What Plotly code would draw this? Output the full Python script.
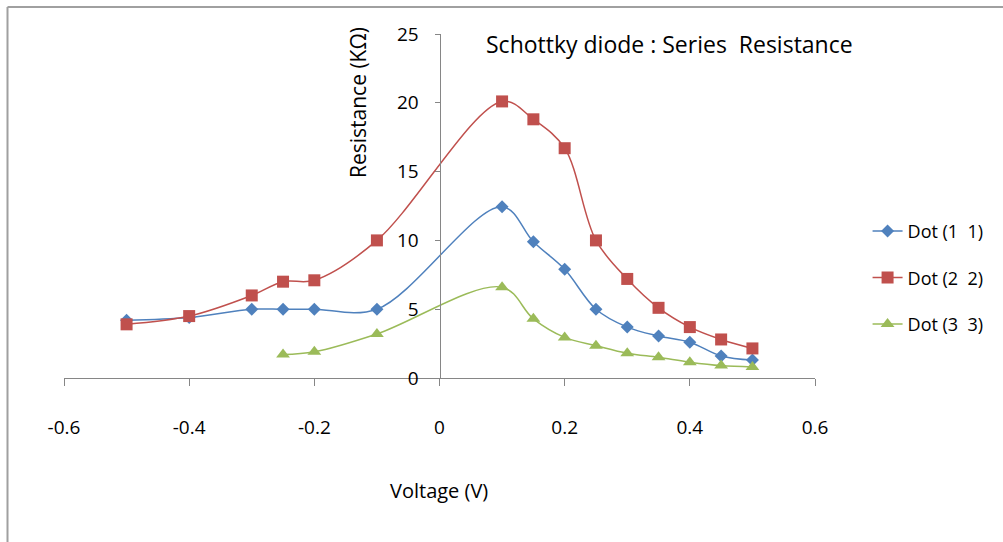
import plotly.graph_objects as go

# ---- data ----
voltage_12 = [-0.5, -0.4, -0.3, -0.25, -0.2, -0.1, 0.1, 0.15, 0.2, 0.25, 0.3, 0.35, 0.4, 0.45, 0.5]
dot11 = [4.2, 4.4, 5.0, 5.0, 5.0, 5.0, 12.45, 9.9, 7.9, 5.0, 3.7, 3.05, 2.6, 1.6, 1.3]
dot22 = [3.9, 4.5, 6.0, 7.0, 7.1, 10.0, 20.1, 18.8, 16.7, 10.0, 7.2, 5.1, 3.7, 2.8, 2.15]
voltage_3 = [-0.25, -0.2, -0.1, 0.1, 0.15, 0.2, 0.25, 0.3, 0.35, 0.4, 0.45, 0.5]
dot33 = [1.7, 1.9, 3.2, 6.6, 4.3, 2.95, 2.35, 1.8, 1.5, 1.15, 0.9, 0.8]

series_names = ["Dot (1  1)", "Dot (2  2)", "Dot (3  3)"]
x_tickvals = [-0.6, -0.4, -0.2, 0, 0.2, 0.4, 0.6]
x_ticktext = ["-0.6", "-0.4", "-0.2", "0", "0.2", "0.4", "0.6"]
y_tickvals = [0, 5, 10, 15, 20, 25]
y_ticktext = ["0", "5", "10", "15", "20", "25"]

FONT = "Open Sans, sans-serif"
AXIS_GRAY = "#868686"

fig = go.Figure()

styles = [
    (voltage_12, dot11, "#4F81BD", "diamond", 10),
    (voltage_12, dot22, "#C0504D", "square", 12),
    (voltage_3, dot33, "#9BBB59", "triangle-up", 12),
]
for i, (xs, ys, col, sym, sz) in enumerate(styles):
    fig.add_trace(go.Scatter(
        x=xs, y=ys, mode="lines+markers", name=series_names[i],
        legendgroup=f"g{i}",
        line=dict(color=col, width=1.5, shape="spline", smoothing=1.0),
        marker=dict(symbol=sym, size=sz, color=col),
    ))

fig.update_layout(
    width=1003, height=542,
    margin=dict(l=64, r=188, t=34, b=164),
    paper_bgcolor="white", plot_bgcolor="white",
    font=dict(family=FONT, size=18, color="#000000"),
    showlegend=True,
    legend=dict(
        x=1.07, xanchor="left", y=0.48, yanchor="top",
        tracegroupgap=20, font=dict(family=FONT, size=18),
        bgcolor="rgba(0,0,0,0)",
    ),
    xaxis=dict(
        range=[-0.6, 0.6], tickvals=x_tickvals, ticktext=x_ticktext,
        showgrid=False, zeroline=False, showline=True, linecolor=AXIS_GRAY, linewidth=1,
        ticks="outside", ticklen=7, tickcolor=AXIS_GRAY,
        ticklabelstandoff=25, tickfont=dict(family=FONT, size=19),
    ),
    yaxis=dict(
        range=[0, 25], tickvals=y_tickvals, ticktext=y_ticktext,
        anchor="free", position=0.5,
        showgrid=False, zeroline=False, showline=True, linecolor=AXIS_GRAY, linewidth=1,
        ticks="outside", ticklen=5, tickcolor=AXIS_GRAY,
        ticklabelstandoff=12, tickfont=dict(family=FONT, size=19),
    ),
    annotations=[
        dict(text="Schottky diode : Series  Resistance", xref="paper", yref="paper",
             x=(484 - 64) / 751, y=(378 - 44) / 344, xanchor="left", yanchor="middle",
             showarrow=False, font=dict(family=FONT, size=23)),
        dict(text="Resistance (KΩ)", xref="paper", yref="paper",
             x=(358 - 64) / 751, y=(378 - 103) / 344, xanchor="center", yanchor="middle",
             textangle=-90, showarrow=False, font=dict(family=FONT, size=21)),
        dict(text="Voltage (V)", xref="paper", yref="paper",
             x=(439 - 64) / 751, y=(378 - 490) / 344, xanchor="center", yanchor="middle",
             showarrow=False, font=dict(family=FONT, size=20)),
    ],
    shapes=[
        dict(type="line", xref="paper", yref="paper",
             x0=(7.5 - 64) / 751, x1=(1003 - 64) / 751,
             y0=(378 - 7) / 344, y1=(378 - 7) / 344,
             line=dict(color="#A0A0A0", width=2)),
        dict(type="line", xref="paper", yref="paper",
             x0=(7.5 - 64) / 751, x1=(7.5 - 64) / 751,
             y0=(378 - 7) / 344, y1=(378 - 542) / 344,
             line=dict(color="#A0A0A0", width=2)),
    ],
)

fig.write_html("out.html")
